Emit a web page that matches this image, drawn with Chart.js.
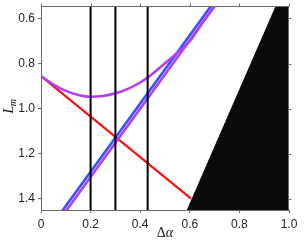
<!DOCTYPE html>
<html>
<head>
<meta charset="utf-8">
<script src="https://cdn.jsdelivr.net/npm/chart.js@4.4.0/dist/chart.umd.min.js"></script>
<style>
html,body{margin:0;padding:0;background:#fff;}
#wrap{width:304px;height:244px;position:relative;}
</style>
</head>
<body>
<div id="wrap"><canvas id="c" width="304" height="244"></canvas></div>
<script>
// ---- data ----
const xTicks = [0, 0.2, 0.4, 0.6, 0.8, 1.0];
const xTickLabels = ['0', '0.2', '0.4', '0.6', '0.8', '1.0'];
const yTicks = [0.6, 0.8, 1.0, 1.2, 1.4];
const yTickLabels = ['0.6', '0.8', '1.0', '1.2', '1.4'];
const xRange = [0, 1];
const yRange = [0.545, 1.449];
const xTitle = ['Δ', 'α'];
const yTitle = ['L', 'm'];

const vLines = [0.2, 0.3, 0.43];

const redX = [0, 0.605];
const redY = [0.856, 1.399];

const blueX = [0.05, 0.70];
const blueY = [1.507, 0.523];

const purpleLowX = [0.06, 0.72];
const purpleLowY = [1.515, 0.515];

const purpleUpX = [0, 0.05, 0.1, 0.15, 0.2, 0.25, 0.3, 0.35, 0.4, 0.45, 0.5, 0.55, 0.6, 0.65, 0.72];
const purpleUpY = [0.856, 0.893, 0.921, 0.939, 0.947, 0.944, 0.932, 0.912, 0.884, 0.845, 0.799, 0.752, 0.700, 0.621, 0.515];

const blackX = [0.59, 0.948, 1.0];
const blackY = [1.449, 0.545, 0.545];

// ---- build ----
const pts = (xs, ys) => xs.map((x, i) => ({x: x, y: ys[i]}));
const frameColor = '#6a6a6a';
const datasets = [];
vLines.forEach(v => datasets.push({
  data: pts([v, v], [yRange[0], yRange[1]]),
  borderColor: '#000', borderWidth: 2, pointRadius: 0, fill: false
}));
datasets.push({data: pts(purpleUpX, purpleUpY), borderColor: '#b23ff7', borderWidth: 2.6, pointRadius: 0, fill: false, cubicInterpolationMode: 'monotone'});
datasets.push({data: pts(purpleLowX, purpleLowY), borderColor: '#b23ff7', borderWidth: 2.6, pointRadius: 0, fill: false});
datasets.push({data: pts(blueX, blueY), borderColor: '#3452ff', borderWidth: 2.6, pointRadius: 0, fill: false});
datasets.push({data: pts(redX, redY), borderColor: '#ff0d0d', borderWidth: 2.2, pointRadius: 0, fill: false});
datasets.push({data: pts(blackX, blackY), borderColor: '#0b0b0b', borderWidth: 1, backgroundColor: '#0b0b0b', pointRadius: 0, fill: {value: yRange[1]}});

const fitFix = (w, h) => function(scale) {
  if (w !== null) scale.width = w;
  if (h !== null) scale.height = h;
  scale.paddingTop = 0; scale.paddingBottom = 0; scale.paddingLeft = 0; scale.paddingRight = 0;
};

const framePlugin = {
  id: 'frame',
  afterDraw(chart) {
    const ctx = chart.ctx;
    const a = chart.chartArea;
    const xs = chart.scales.x, ys = chart.scales.y;
    ctx.save();
    ctx.strokeStyle = frameColor;
    ctx.lineWidth = 1;
    const L = Math.round(a.left) + 0.5, R = Math.round(a.right) - 0.5;
    const T = Math.round(a.top) + 0.5, B = Math.round(a.bottom) - 0.5;
    ctx.beginPath();
    ctx.moveTo(L, T); ctx.lineTo(R, T); ctx.lineTo(R, B);
    ctx.stroke();
    // top ticks
    ctx.beginPath();
    xTicks.forEach(v => {
      const px = Math.round(xs.getPixelForValue(v)) + 0.5;
      ctx.moveTo(px, T); ctx.lineTo(px, T - 3);
    });
    yTicks.forEach(v => {
      const py = Math.round(ys.getPixelForValue(v)) + 0.5;
      ctx.moveTo(R, py); ctx.lineTo(R + 3, py);
    });
    ctx.stroke();
    // x title
    ctx.fillStyle = '#111';
    ctx.textBaseline = 'alphabetic';
    ctx.font = '14px "Liberation Serif"';
    const w1 = ctx.measureText(xTitle[0]).width;
    ctx.font = 'italic 14px "Liberation Serif"';
    const w2 = ctx.measureText(xTitle[1]).width;
    const cx = (a.left + a.right) / 2;
    let sx = cx - (w1 + w2) / 2;
    ctx.font = '14px "Liberation Serif"';
    ctx.fillText(xTitle[0], sx, 237);
    ctx.font = 'italic 14px "Liberation Serif"';
    ctx.fillText(xTitle[1], sx + w1, 237);
    // y title
    ctx.save();
    ctx.translate(13, 106);
    ctx.rotate(-Math.PI / 2);
    ctx.font = 'italic 14px "Liberation Serif"';
    const wl = ctx.measureText(yTitle[0]).width;
    ctx.font = 'italic 10px "Liberation Serif"';
    const wm = ctx.measureText(yTitle[1]).width;
    const s = -(wl + wm) / 2;
    ctx.font = 'italic 14px "Liberation Serif"';
    ctx.fillText(yTitle[0], s, 0);
    ctx.font = 'italic 10px "Liberation Serif"';
    ctx.fillText(yTitle[1], s + wl - 0.5, 3);
    ctx.restore();
    ctx.restore();
  }
};

new Chart(document.getElementById('c'), {
  type: 'line',
  data: {datasets: datasets},
  options: {
    responsive: false,
    animation: false,
    events: [],
    layout: {padding: {left: 0, right: 15, top: 6, bottom: 0}},
    plugins: {legend: {display: false}, tooltip: {enabled: false}},
    scales: {
      x: {
        type: 'linear', min: xRange[0], max: xRange[1],
        afterBuildTicks: s => { s.ticks = xTicks.map(v => ({value: v})); },
        afterFit: fitFix(null, 34),
        ticks: {
          padding: 4, color: '#222', maxRotation: 0, autoSkip: false,
          font: {family: '"Liberation Sans", Arial, sans-serif', size: 12},
          callback: (v, i) => xTickLabels[i]
        },
        grid: {display: true, drawOnChartArea: false, drawTicks: true, tickLength: 3, color: frameColor},
        border: {display: true, color: frameColor, width: 1}
      },
      y: {
        type: 'linear', min: yRange[0], max: yRange[1], reverse: true,
        afterBuildTicks: s => { s.ticks = yTicks.map(v => ({value: v})); },
        afterFit: fitFix(41, null),
        ticks: {
          padding: 3, color: '#222', autoSkip: false,
          font: {family: '"Liberation Sans", Arial, sans-serif', size: 12},
          callback: (v, i) => yTickLabels[i]
        },
        grid: {display: true, drawOnChartArea: false, drawTicks: true, tickLength: 3, color: frameColor},
        border: {display: true, color: frameColor, width: 1}
      }
    }
  },
  plugins: [framePlugin]
});
</script>
</body>
</html>
